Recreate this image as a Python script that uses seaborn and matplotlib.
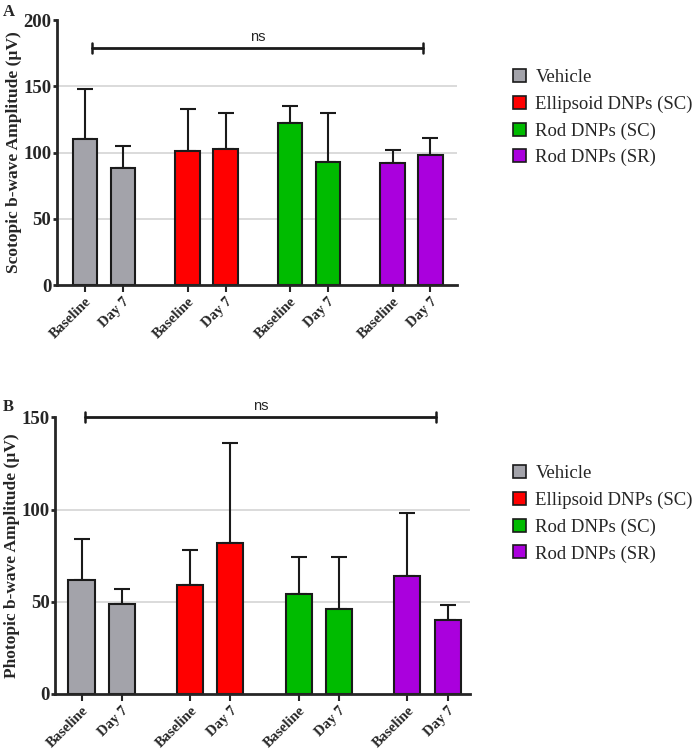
import numpy as np
import pandas as pd
import matplotlib
matplotlib.use('Agg')
import matplotlib.pyplot as plt
from matplotlib.patches import Patch
import seaborn as sns

groups = ['Vehicle', 'Ellipsoid DNPs (SC)', 'Rod DNPs (SC)', 'Rod DNPs (SR)']
timepoints = ['Baseline', 'Day 7']
colors = {'Vehicle': '#a3a3aa', 'Ellipsoid DNPs (SC)': '#ff0000',
          'Rod DNPs (SC)': '#00bb00', 'Rod DNPs (SR)': '#aa00dd'}

# mean and upper error (SD) per bar, order: group x timepoint
scotopic_mean = [110, 88, 101, 103, 122, 93, 92, 98]
scotopic_err = [38, 17, 32, 27, 13, 37, 10, 13]
photopic_mean = [62, 49, 59, 82, 54, 46, 64, 40]
photopic_err = [22, 8, 19, 54, 20, 28, 34, 8]

group_gap = 2.7
serif = 'Liberation Serif'
sns.set_style('ticks')
plt.rcParams['font.family'] = [serif, 'DejaVu Serif']


def make_df(means, errs):
    rows = []
    k = 0
    for gi, g in enumerate(groups):
        for ti, t in enumerate(timepoints):
            rows.append({'group': g, 'time': t, 'pos': gi * group_gap + ti,
                         'mean': means[k], 'err': errs[k]})
            k += 1
    return pd.DataFrame(rows)


fig = plt.figure(figsize=(7, 7.53), dpi=100)
panels = [
    dict(rect=[0.0814, 0.6215, 0.571, 0.3519], means=scotopic_mean, errs=scotopic_err,
         ymax=200, ticks=[0, 50, 100, 150, 200], xlim=(-0.74, 9.79),
         ylabel='Scotopic b-wave Amplitude (µV)', letter='A', sig=(0.18, 8.9, 179),
         letter_xy=(0.004, 0.995), leg_y=0.918),
    dict(rect=[0.0786, 0.0784, 0.593, 0.3674], means=photopic_mean, errs=photopic_err,
         ymax=150, ticks=[0, 50, 100, 150], xlim=(-0.66, 9.66),
         ylabel='Photopic b-wave Amplitude (µV)', letter='B', sig=(0.09, 8.8, 150.3),
         letter_xy=(0.004, 0.470), leg_y=0.392),
]

for p in panels:
    ax = fig.add_axes(p['rect'])
    df = make_df(p['means'], p['errs'])
    for t in p['ticks'][1:-1]:
        ax.axhline(t, color='#d4d4d4', lw=1.2, zorder=0)
    sns.barplot(data=df, x='pos', y='mean', hue='group', palette=colors,
                native_scale=True, dodge=False, width=0.65, errorbar=None,
                saturation=1, edgecolor='#1a1a1a', linewidth=1.5, legend=False,
                ax=ax, zorder=2)
    ax.errorbar(df['pos'], df['mean'], yerr=[np.zeros(len(df)), df['err']],
                fmt='none', ecolor='#1a1a1a', elinewidth=1.5, capsize=5.5,
                capthick=1.5, zorder=1)

    ax.set_xlim(*p['xlim'])
    ax.set_ylim(0, p['ymax'])
    ax.set_yticks(p['ticks'])
    ax.set_yticklabels([str(t) for t in p['ticks']], fontsize=13.5, fontweight='bold')
    ax.set_xticks(df['pos'])
    ax.set_xticklabels(df['time'], rotation=45, ha='right', rotation_mode='anchor',
                       fontsize=10.5, fontweight='bold')
    ax.set_xlabel('')
    ax.set_ylabel(p['ylabel'], fontsize=12.5, fontweight='bold', labelpad=1)
    ax.tick_params(axis='y', direction='out', length=3, width=2, pad=1)
    ax.tick_params(axis='x', direction='out', length=5, width=1.5, pad=2)
    sns.despine(ax=ax)
    for s in ['left', 'bottom']:
        ax.spines[s].set_linewidth(2)
    ax.patch.set_alpha(0)

    # significance bracket
    x0, x1, yb = p['sig']
    ax.plot([x0, x1], [yb, yb], color='#1a1a1a', lw=2, clip_on=False)
    tick_h = p['ymax'] * 0.018
    for xx in (x0, x1):
        ax.plot([xx, xx], [yb - tick_h, yb + tick_h], color='#1a1a1a', lw=1.8, clip_on=False)
    ax.text((x0 + x1) / 2, yb + p['ymax'] * 0.015, 'ns', ha='center', va='bottom',
            fontsize=10.5, family=['Liberation Sans', 'DejaVu Sans'])

    fig.text(p['letter_xy'][0], p['letter_xy'][1], p['letter'], fontsize=12,
             fontweight='bold', ha='left', va='top')

    handles = [Patch(facecolor=colors[g], edgecolor='#1a1a1a', linewidth=1.2, label=g)
               for g in groups]
    fig.legend(handles=handles, loc='upper left', bbox_to_anchor=(0.722, p['leg_y']),
               frameon=False, fontsize=13.5, handlelength=0.7, handleheight=0.7,
               handletextpad=0.5, labelspacing=0.5, borderaxespad=0)

fig.savefig('out.png', dpi=100)
